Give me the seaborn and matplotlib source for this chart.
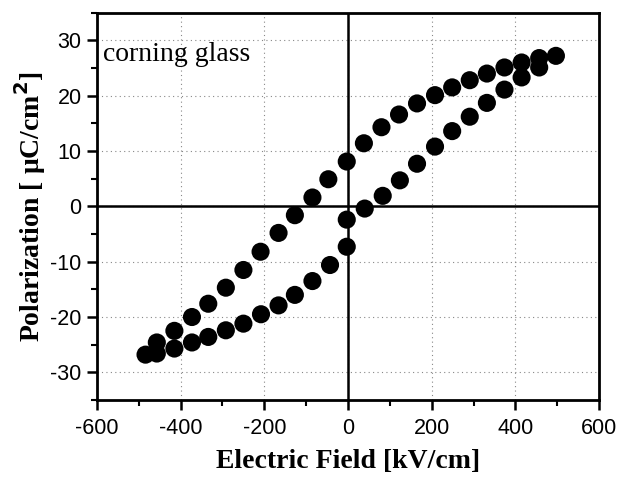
import numpy as np
import pandas as pd
import matplotlib
matplotlib.use("Agg")
import matplotlib.pyplot as plt
from matplotlib.ticker import MultipleLocator
import seaborn as sns

# Hysteresis loop of the film on corning glass
# branch sweeping from +E max down to -E max
field_down = [497, 457, 415, 374, 332, 291, 249, 208, 165, 122, 80, 38, -3,
              -47, -85, -127, -166, -209, -250, -292, -334, -373, -415, -457, -484]
pol_down = [27.2, 26.8, 26.0, 25.1, 24.0, 22.8, 21.5, 20.1, 18.6, 16.6, 14.3, 11.4, 8.1,
            4.9, 1.6, -1.6, -4.8, -8.2, -11.5, -14.7, -17.6, -20.0, -22.5, -24.6, -26.8]
# branch sweeping from -E max back up to +E max
field_up = [-457, -415, -373, -334, -292, -250, -208, -166, -127, -85, -43, -3,
            -3, 40, 83, 124, 165, 208, 249, 291, 332, 374, 415, 457]
pol_up = [-26.6, -25.7, -24.6, -23.6, -22.4, -21.2, -19.5, -17.9, -16.0, -13.5, -10.6, -7.3,
          -2.4, -0.4, 1.9, 4.7, 7.7, 10.8, 13.6, 16.2, 18.7, 21.1, 23.3, 25.1]

x_ticks = [-600, -400, -200, 0, 200, 400, 600]
y_ticks = [-30, -20, -10, 0, 10, 20, 30]

df = pd.DataFrame({
    "field": field_down + field_up,
    "pol": pol_down + pol_up,
    "branch": ["down"] * len(field_down) + ["up"] * len(field_up),
})

sns.set_theme(style="white")
plt.rcParams["font.family"] = ["Liberation Sans", "DejaVu Sans"]

fig = plt.figure(figsize=(6.19, 4.79), dpi=100)
ax = fig.add_axes([0.1567, 0.1649, 0.8110, 0.8086])

ax.grid(True, which="major", linestyle=(0, (1, 3)), color="#888888", linewidth=0.8)
ax.set_axisbelow(True)
ax.axhline(0, color="black", linewidth=1.8, zorder=1)
ax.axvline(0, color="black", linewidth=1.8, zorder=1)

sns.scatterplot(data=df, x="field", y="pol", hue="branch",
                palette={"down": "black", "up": "black"},
                s=170, edgecolor="none", legend=False, ax=ax, zorder=3)

ax.set_xlim(-600, 600)
ax.set_ylim(-35, 35)
ax.set_xticks(x_ticks)
ax.set_yticks(y_ticks)
ax.set_xticklabels([str(v) for v in x_ticks])
ax.set_yticklabels([str(v) for v in y_ticks])
ax.xaxis.set_minor_locator(MultipleLocator(100))
ax.yaxis.set_minor_locator(MultipleLocator(5))
ax.tick_params(axis="both", which="both", bottom=True, left=True, top=False, right=False)
ax.tick_params(axis="both", which="major", direction="out", length=7, width=1.8,
               color="black", labelsize=15.5, labelcolor="black")
ax.tick_params(axis="x", which="major", pad=6)
ax.tick_params(axis="y", which="major", pad=4)
ax.tick_params(axis="both", which="minor", direction="out", length=4, width=1.5,
               color="black")
for sp in ax.spines.values():
    sp.set_color("black")
    sp.set_linewidth(2.0)

serif = ["Liberation Serif", "DejaVu Serif"]
ax.set_xlabel("Electric Field [kV/cm]", family=serif, fontsize=20, fontweight="bold",
              color="black", labelpad=7)
ax.set_ylabel("Polarization [ \u03bcC/cm$^\\mathbf{2}$]", family=serif, fontsize=20,
              fontweight="bold", color="black", labelpad=2)
ax.text(-585, 26.2, "corning glass", family=serif, fontsize=20, color="black",
        va="baseline", ha="left")

fig.savefig("out.png", dpi=100)
